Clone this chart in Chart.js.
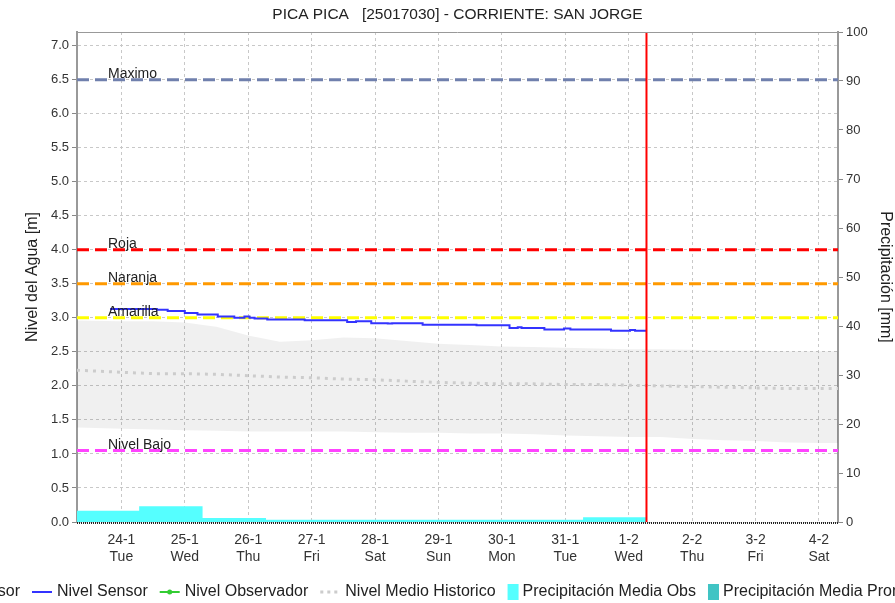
<!DOCTYPE html>
<html lang="es">
<head>
  <meta charset="UTF-8">
  <title>PICA PICA - San Jorge</title>
  <script src="https://cdn.jsdelivr.net/npm/chart.js"></script>
  <style>
    html, body { margin: 0; padding: 0; background: #fff; }
  </style>
</head>
<body>
  <canvas id="chart" width="895" height="603"></canvas>

  <script>
    // eje x en dias (0 = 24-1)
    const dayTicks = [0, 1, 2, 3, 4, 5, 6, 7, 8, 9, 10, 11];
    const dayLabels = ['24-1', '25-1', '26-1', '27-1', '28-1', '29-1', '30-1', '31-1', '1-2', '2-2', '3-2', '4-2'];
    const weekDays = ['Tue', 'Wed', 'Thu', 'Fri', 'Sat', 'Sun', 'Mon', 'Tue', 'Wed', 'Thu', 'Fri', 'Sat'];
    const xMin = -0.70, xMax = 11.30, nowDay = 8.28;

    // nivel historico: banda min/max y medio
    const bandDays = [-0.70, 0, 0.5, 1, 1.5, 2, 2.5, 3, 3.5, 4, 4.5, 5, 5.5, 6, 6.5, 7, 7.5, 8, 8.5, 9, 9.5, 10, 10.5, 11, 11.30];
    const bandHigh = [2.96, 2.95, 2.95, 2.93, 2.87, 2.74, 2.65, 2.67, 2.71, 2.70, 2.66, 2.62, 2.60, 2.58, 2.57, 2.56, 2.55, 2.54, 2.54, 2.53, 2.52, 2.52, 2.51, 2.51, 2.51];
    const bandLow = [1.39, 1.37, 1.36, 1.35, 1.34, 1.33, 1.33, 1.33, 1.33, 1.32, 1.31, 1.31, 1.30, 1.30, 1.29, 1.27, 1.26, 1.25, 1.25, 1.22, 1.20, 1.19, 1.17, 1.16, 1.16];
    const meanHist = [2.23, 2.20, 2.18, 2.18, 2.17, 2.15, 2.13, 2.12, 2.10, 2.09, 2.07, 2.05, 2.04, 2.03, 2.03, 2.02, 2.02, 2.01, 2.00, 1.99, 1.98, 1.97, 1.96, 1.96, 1.96];

    // nivel sensor
    const sensorDays = [-0.18, 0.56, 0.73, 1.00, 1.20, 1.52, 1.78, 1.94, 2.02, 2.10, 2.30, 2.89, 3.56, 3.70, 3.94, 4.20, 4.27, 4.75, 5.60, 6.12, 6.25, 6.31, 6.67, 6.98, 7.08, 7.72, 8.02, 8.10, 8.28];
    const sensorLevel = [3.13, 3.12, 3.10, 3.07, 3.05, 3.02, 3.00, 3.02, 3.00, 2.99, 2.975, 2.965, 2.94, 2.95, 2.92, 2.915, 2.92, 2.90, 2.89, 2.85, 2.86, 2.85, 2.83, 2.845, 2.83, 2.81, 2.82, 2.81, 2.81];

    // precipitacion media diaria [mm]
    const precipDays = [-0.72, 0.28, 1.28, 2.28, 3.28, 4.28, 5.28, 6.28, 7.28];
    const precipObs = [2.3, 3.2, 0.8, 0.47, 0.45, 0.45, 0.45, 0.45, 0.95];

    // umbrales
    const thresholdNames = ['Maximo', 'Roja', 'Naranja', 'Amarilla', 'Nivel Bajo'];
    const thresholdValues = [6.5, 4.0, 3.5, 3.0, 1.05];
    const thresholdColors = ['#7080ad', '#ff0000', '#ff9900', '#ffff00', '#ff44ff'];

    const FONT = '"Liberation Sans", Arial, sans-serif';
    Chart.defaults.font.family = FONT;
    Chart.defaults.color = '#333';

    const pts = (xs, ys) => xs.map((x, i) => ({ x: x, y: ys[i] }));

    const precipPts = pts(precipDays, precipObs);
    precipPts.push({ x: nowDay, y: precipObs[precipObs.length - 1] });

    const datasets = [
      {
        label: 'Ahora', data: [{ x: nowDay, y: 0 }, { x: nowDay, y: 7.2 }],
        borderColor: '#ff0000', borderWidth: 2, pointRadius: 0, order: 0
      },
      {
        label: 'Nivel Sensor', data: pts(sensorDays, sensorLevel), legendKind: 'line',
        borderColor: '#3333ff', borderWidth: 2, pointRadius: 0, stepped: 'before', order: 1
      },
      {
        label: 'Nivel Observador', data: [], legendKind: 'marker',
        borderColor: '#33cc33', backgroundColor: '#33cc33', borderWidth: 2, pointRadius: 3, order: 1
      },
      {
        label: 'Nivel Medio Historico', data: pts(bandDays, meanHist), legendKind: 'dots',
        borderColor: '#cccccc', borderWidth: 3, borderDash: [3, 5], pointRadius: 0, order: 3
      },
      {
        label: 'Precipitación Media Obs', data: precipPts, legendKind: 'box', yAxisID: 'y2',
        borderWidth: 0, backgroundColor: '#55ffff', fill: 'origin', stepped: 'before', pointRadius: 0, order: 4
      },
      {
        label: 'Precipitación Media Pronosticada', data: [], legendKind: 'box', yAxisID: 'y2',
        borderWidth: 0, backgroundColor: '#40c4c4', fill: 'origin', stepped: 'before', pointRadius: 0, order: 4
      },
      {
        label: 'Rango Historico Sensor', data: pts(bandDays, bandHigh), legendKind: 'band', first: true,
        borderWidth: 0, backgroundColor: 'rgba(0,0,0,0.06)', fill: '+1', pointRadius: 0, order: 5
      },
      {
        label: 'Rango Historico Min', data: pts(bandDays, bandLow),
        borderWidth: 0, pointRadius: 0, fill: false, order: 5
      }
    ];

    thresholdNames.forEach((name, i) => {
      datasets.push({
        label: name, threshold: true,
        data: [{ x: xMin, y: thresholdValues[i] }, { x: xMax, y: thresholdValues[i] }],
        borderColor: thresholdColors[i], borderWidth: 3, borderDash: [12, 6], pointRadius: 0, order: 2
      });
    });

    // marco, etiquetas de umbral y leyenda
    const extras = {
      id: 'extras',
      afterDatasetsDraw(chart) {
        const ctx = chart.ctx;
        const a = chart.chartArea;
        const yS = chart.scales.y;
        ctx.save();
        ctx.strokeStyle = '#999';
        ctx.lineWidth = 1;
        ctx.beginPath();
        ctx.moveTo(a.left, a.top + 0.5);
        ctx.lineTo(a.right, a.top + 0.5);
        ctx.stroke();
        ctx.strokeStyle = '#222';
        ctx.lineWidth = 2;
        ctx.setLineDash([1, 1]);
        ctx.beginPath();
        ctx.moveTo(a.left, a.bottom + 1);
        ctx.lineTo(a.right, a.bottom + 1);
        ctx.stroke();
        ctx.setLineDash([]);

        ctx.font = '14px ' + FONT;
        ctx.fillStyle = '#222';
        ctx.textBaseline = 'alphabetic';
        chart.data.datasets.filter(d => d.threshold).forEach(d => {
          ctx.fillText(d.label, a.left + 31, yS.getPixelForValue(d.data[0].y) - 2);
        });
        ctx.restore();
      },
      afterDraw(chart) {
        const ctx = chart.ctx;
        const items = chart.data.datasets.filter(d => d.legendKind);
        items.sort((p, q) => (q.first ? 1 : 0) - (p.first ? 1 : 0));
        ctx.save();
        ctx.font = '16px ' + FONT;
        ctx.textBaseline = 'middle';
        const y = 592;
        const swW = d => (d.legendKind === 'box' || d.legendKind === 'band') ? 11 : 20;
        const gap = d => (d.legendKind === 'box' || d.legendKind === 'band') ? 4 : 5;
        const width = d => swW(d) + gap(d) + ctx.measureText(d.label).width;
        let x = 32 - 12 - width(items[0]);
        items.forEach(d => {
          const w = swW(d);
          if (d.legendKind === 'box' || d.legendKind === 'band') {
            ctx.fillStyle = d.legendKind === 'band' ? '#e8e8e8' : d.backgroundColor;
            ctx.fillRect(x, y - 8, w, 16);
          } else {
            ctx.strokeStyle = d.borderColor;
            ctx.lineWidth = d.legendKind === 'dots' ? 3 : 2;
            ctx.setLineDash(d.legendKind === 'dots' ? [3, 4] : []);
            ctx.beginPath();
            ctx.moveTo(x, y);
            ctx.lineTo(x + w, y);
            ctx.stroke();
            ctx.setLineDash([]);
            if (d.legendKind === 'marker') {
              ctx.fillStyle = d.borderColor;
              ctx.beginPath();
              ctx.arc(x + w / 2, y, 2.5, 0, Math.PI * 2);
              ctx.fill();
            }
          }
          ctx.fillStyle = '#222';
          ctx.fillText(d.label, x + w + gap(d), y);
          x += width(d) + 12;
        });
        ctx.restore();
      }
    };

    const gridDash = { color: '#999', width: 2, dash: [3, 3] };

    new Chart(document.getElementById('chart').getContext('2d'), {
      type: 'line',
      data: { datasets: datasets },
      options: {
        responsive: false,
        devicePixelRatio: 1,
        animation: false,
        events: [],
        layout: { padding: { top: 0, right: 0, bottom: 40, left: 0 } },
        elements: { line: { tension: 0 } },
        plugins: {
          legend: { display: false },
          tooltip: { enabled: false },
          title: {
            display: true, fullSize: false,
            text: 'PICA PICA   [25017030] - CORRIENTE: SAN JORGE',
            color: '#222', font: { size: 15.5, weight: 'normal' },
            padding: { top: 5, bottom: 8.4 }
          }
        },
        scales: {
          x: {
            type: 'linear', min: xMin, max: xMax,
            afterBuildTicks: s => { s.ticks = dayTicks.map(v => ({ value: v })); },
            afterFit: s => { s.height = 41; },
            ticks: {
              autoSkip: false, maxRotation: 0, padding: 4,
              font: { size: 14 }, color: '#333',
              callback: (v, i) => [dayLabels[i], weekDays[i]]
            },
            grid: { color: '#c8c8c8', lineWidth: 1, tickLength: 6, tickColor: 'rgba(0,0,0,0)', tickBorderDash: [] },
            border: { display: false, dash: [3, 3] }
          },
          y: {
            position: 'left', min: 0, max: 7.2,
            afterFit: s => { s.width = 77; },
            ticks: { stepSize: 0.5, includeBounds: false, padding: 3, font: { size: 13 }, color: '#333', callback: v => v.toFixed(1) },
            grid: { color: '#c8c8c8', lineWidth: 1, tickLength: 5, tickColor: '#888', tickBorderDash: [] },
            border: gridDash,
            title: { display: true, text: 'Nivel del Agua [m]', color: '#222', font: { size: 16 }, padding: { top: 23, bottom: 0 } }
          },
          y2: {
            position: 'right', min: 0, max: 100,
            afterFit: s => { s.width = 57; },
            ticks: { stepSize: 10, includeBounds: false, padding: 3, font: { size: 13 }, color: '#333' },
            grid: { drawOnChartArea: false, tickLength: 5, tickColor: '#888', tickBorderDash: [] },
            border: gridDash,
            title: { display: true, text: 'Precipitación [mm]', color: '#222', font: { size: 16 }, padding: { top: 0, bottom: 0 } }
          }
        }
      },
      plugins: [extras]
    });
  </script>
</body>
</html>
